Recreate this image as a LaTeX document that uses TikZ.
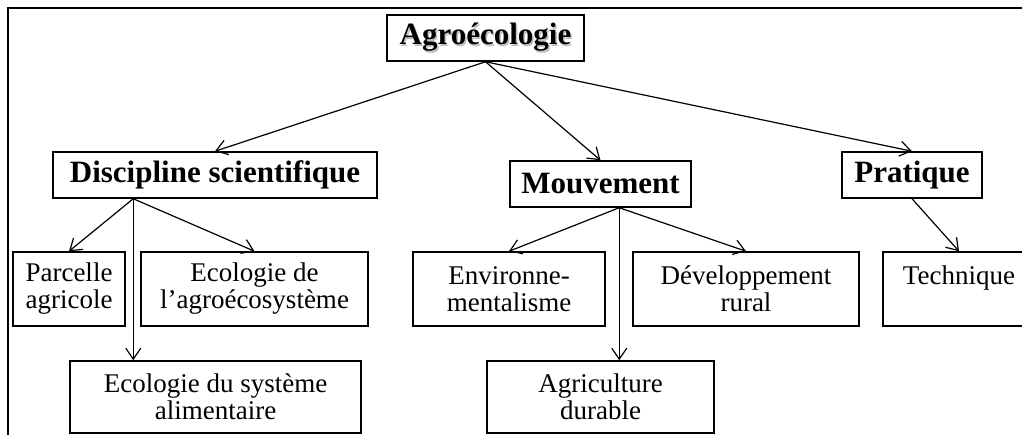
\documentclass[tikz,border=0pt]{standalone}
\usepackage{fontspec}
\setmainfont{Liberation Serif}
\usetikzlibrary{positioning,arrows.meta}
\newcommand{\softshadow}[1]{\makebox[0pt][l]{\hspace{1.5pt}\raisebox{-2pt}{\color{black!25}#1}}#1}

\begin{document}
\begin{tikzpicture}[x=1pt,y=-1pt,
topic/.style={rectangle,draw=black,line width=1.5pt,inner sep=0pt,
minimum height=46pt,font=\fontsize{31}{33}\selectfont\bfseries},
leaf/.style={rectangle,draw=black,line width=1.5pt,inner sep=0pt,
minimum height=74pt,align=center,font=\fontsize{27}{27}\selectfont},
link/.style={line width=1.2pt,-{Straight Barb[length=11pt,width=15pt]}}]
\useasboundingbox (0,0) rectangle (1022,435);
\clip (0,0) rectangle (1022,435);
\draw[line width=2pt] (8,8) rectangle (1040,450);
% top level
\node[topic,minimum width=197pt] (agro) at (485.5,38) {\softshadow{Agroécologie}};
\node[topic,minimum width=324pt] (discipline) at (215,175) {Discipline scientifique};
\node[topic,minimum width=181pt] (mouvement) at (600.5,184) {Mouvement};
\node[topic,minimum width=140pt] (pratique) at (912,175) {Pratique};
% leaves
\node[leaf,minimum width=112pt] (parcelle) at (69,289) {Parcelle\\agricole};
\node[leaf,minimum width=227pt] (agroeco) at (254.5,289) {Ecologie de\\l’agroécosystème};
\node[leaf,minimum width=291pt,minimum height=72pt] (alim) at (215.5,397) {Ecologie du système\\alimentaire};
\node[leaf,minimum width=192pt] (environ) at (509,289) {Environne-\\mentalisme};
\node[leaf,minimum width=226pt] (rural) at (746,289) {Développement\\rural};
\node[leaf,minimum width=227pt,minimum height=72pt] (durable) at (600.5,397) {Agriculture\\durable};
\node[leaf,minimum width=152pt] (technique) at (959,289) {Technique\\~};
% links
\draw[link] (agro.south) -- (discipline.north);
\draw[link] (agro.south) -- (mouvement.north);
\draw[link] (agro.south) -- (pratique.north);
\draw[link] ([xshift=81pt]discipline.south west) -- (parcelle.north);
\draw[link] ([xshift=81pt]discipline.south west) -- ([xshift=64pt]alim.north west);
\draw[link] ([xshift=81pt]discipline.south west) -- (agroeco.north);
\draw[link] ([xshift=110pt]mouvement.south west) -- (environ.north);
\draw[link] ([xshift=110pt]mouvement.south west) -- ([xshift=133pt]durable.north west);
\draw[link] ([xshift=110pt]mouvement.south west) -- (rural.north);
\draw[link] (pratique.south) -- (technique.north);
\end{tikzpicture}
\end{document}
